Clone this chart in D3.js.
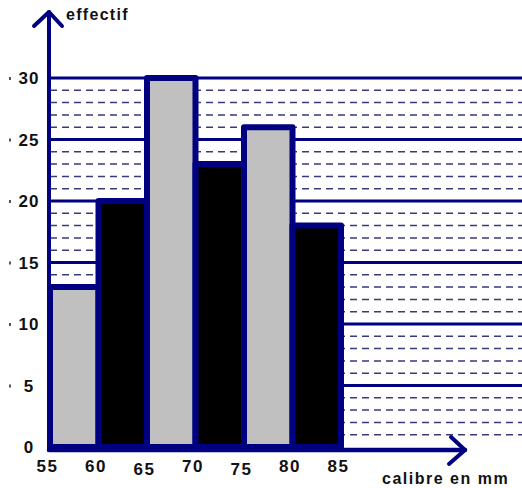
<!DOCTYPE html>
<html><head><meta charset="utf-8">
<script src="https://cdn.jsdelivr.net/npm/d3@7"></script>
<style>
html,body{margin:0;padding:0;background:#fff;}
svg{display:block;}
text{font-family:"Liberation Sans",Arial,sans-serif;font-weight:bold;fill:#111;}
</style></head>
<body><svg id="c" width="522" height="488"></svg>
<script>
const classEdges = [55, 60, 65, 70, 75, 80, 85];
const counts = [13, 20, 30, 23, 26, 18];
const barColors = ["#c0c0c0", "#000000", "#c0c0c0", "#000000", "#c0c0c0", "#000000"];
const yTicks = [0, 5, 10, 15, 20, 25, 30];
const xTickLabels = ["55", "60", "65", "70", "75", "80", "85"];
const yLabel = "effectif";
const xLabel = "calibre en mm";

const navy = "#000080";
const svg = d3.select("#c");
const x = d3.scaleLinear().domain([55, 85]).range([50, 341]);
const y = d3.scaleLinear().domain([0, 30]).range([447, 78]);

// grid lines
const minor = d3.range(1, 30).filter(v => v % 5 !== 0);
svg.append("g").selectAll("line").data(minor).join("line")
  .attr("x1", x(55)).attr("x2", 522)
  .attr("y1", d => y(d)).attr("y2", d => y(d))
  .attr("stroke", "#3a3a7a").attr("stroke-width", 1.5)
  .attr("stroke-dasharray", "7,5");
svg.append("g").selectAll("line").data(yTicks.filter(v => v > 0)).join("line")
  .attr("x1", x(55)).attr("x2", 522)
  .attr("y1", d => y(d)).attr("y2", d => y(d))
  .attr("stroke", navy).attr("stroke-width", 3);

// bars
const bars = counts.map((c, i) => ({x0: classEdges[i], x1: classEdges[i + 1], v: c, col: barColors[i]}));
svg.append("g").selectAll("rect").data(bars).join("rect")
  .attr("x", d => x(d.x0)).attr("width", d => x(d.x1) - x(d.x0))
  .attr("y", d => y(d.v)).attr("height", d => y(0) - y(d.v))
  .attr("fill", d => d.col).attr("stroke", navy).attr("stroke-width", 6)
  .attr("stroke-linejoin", "round");

// axes lines with arrows
const ax = svg.append("g").attr("stroke", navy).attr("fill", "none")
  .attr("stroke-linecap", "round").attr("stroke-linejoin", "round");
ax.append("line").attr("x1", 49).attr("y1", 450).attr("x2", 49).attr("y2", 12).attr("stroke-width", 4);
ax.append("polyline").attr("points", "34,26 49,12 62,26").attr("stroke-width", 4);
ax.append("line").attr("x1", 49).attr("y1", 450).attr("x2", 465).attr("y2", 450).attr("stroke-width", 4.5);
ax.append("polyline").attr("points", "451,437 465,450 449,464").attr("stroke-width", 4);

// y tick labels via axis
const yAxis = d3.axisLeft(y).tickValues(yTicks).tickSize(0).tickPadding(0).tickFormat(d3.format("d"));
const gy = svg.append("g").attr("transform", "translate(29,0)").call(yAxis);
gy.select(".domain").remove();
gy.selectAll("text").attr("font-size", 17).attr("font-family", "Liberation Sans, Arial, sans-serif")
  .attr("font-weight", "bold").attr("fill", "#111").attr("dy", "0.35em")
  .attr("text-anchor", "middle").attr("letter-spacing", 1);
// small marks left of labels
svg.append("g").selectAll("rect").data(yTicks.filter(v => v > 0)).join("rect")
  .attr("x", 9).attr("y", d => y(d) - 1).attr("width", 2).attr("height", 3).attr("fill", "#555");

// x tick labels via axis
const xAxis = d3.axisBottom(x).tickValues(classEdges).tickSize(0).tickPadding(0)
  .tickFormat((d, i) => xTickLabels[i]);
const gx = svg.append("g").attr("transform", "translate(-3,459)").call(xAxis);
gx.select(".domain").remove();
gx.selectAll("text").attr("font-size", 17).attr("font-family", "Liberation Sans, Arial, sans-serif")
  .attr("font-weight", "bold").attr("fill", "#111").attr("letter-spacing", 1.5)
  .attr("dy", (d, i) => (i === 2 || i === 4) ? "0.95em" : "0.75em");

svg.append("text").attr("x", 66).attr("y", 20).attr("font-size", 16).attr("letter-spacing", 1.3).text(yLabel);
svg.append("text").attr("x", 382).attr("y", 484).attr("font-size", 16).attr("letter-spacing", 1.5).text(xLabel);
</script></body></html>
